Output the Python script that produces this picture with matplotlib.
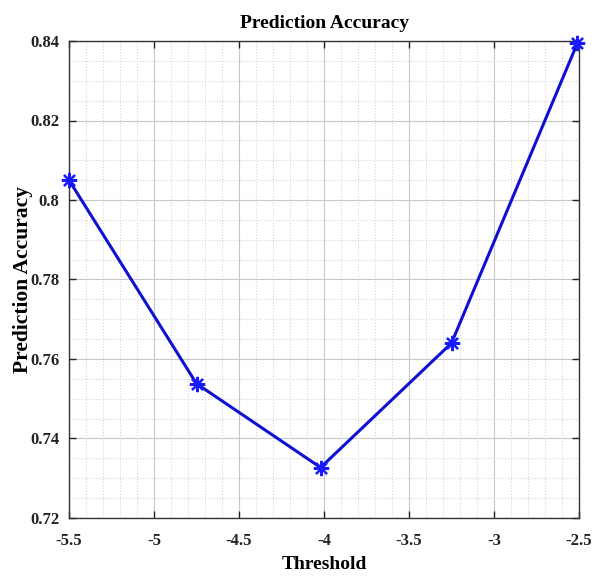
import matplotlib
matplotlib.use("Agg")
import matplotlib.pyplot as plt
from matplotlib.ticker import MultipleLocator

threshold = [-5.5, -4.75, -4.02, -3.25, -2.51]
accuracy = [0.805, 0.7538, 0.7327, 0.764, 0.8394]
xticks = [-5.5, -5, -4.5, -4, -3.5, -3, -2.5]
xticklabels = ["-5.5", "-5", "-4.5", "-4", "-3.5", "-3", "-2.5"]
yticks = [0.72, 0.74, 0.76, 0.78, 0.8, 0.82, 0.84]
yticklabels = ["0.72", "0.74", "0.76", "0.78", "0.8", "0.82", "0.84"]

plt.rcParams['font.family'] = ['Liberation Serif', 'DejaVu Serif']
plt.rcParams['font.weight'] = 'bold'

fig = plt.figure(figsize=(5.94, 5.76), dpi=100)
ax = fig.add_axes([69/594, 1-518/576, (579-69)/594, (518-41)/576])

ax.plot(threshold, accuracy, color='#1010d0', linewidth=2.2, zorder=3, clip_on=False)
ax.plot(threshold, accuracy, linestyle='none', marker=(8, 2, 0), markersize=11,
        markeredgewidth=1.6, markeredgecolor='#1a1aff', zorder=4, clip_on=False)

ax.set_xlim(-5.5, -2.5)
ax.set_ylim(0.72, 0.84)
ax.set_xticks(xticks)
ax.set_xticklabels(xticklabels)
ax.set_yticks(yticks)
ax.set_yticklabels(yticklabels)
ax.xaxis.set_minor_locator(MultipleLocator(0.1))
ax.yaxis.set_minor_locator(MultipleLocator(0.005))

ax.grid(which='major', color='#c8c8c8', linestyle='-', linewidth=0.8)
ax.grid(which='minor', color='#d4d4d4', linestyle=':', linewidth=0.8)
ax.set_axisbelow(True)

ax.tick_params(which='major', direction='in', length=5, width=1.0, top=True, right=True,
               labelsize=12, colors='#222222')
ax.tick_params(axis='x', which='major', pad=11)
ax.tick_params(axis='y', which='major', pad=7)
ax.tick_params(which='minor', length=0)
for lab in ax.get_xticklabels() + ax.get_yticklabels():
    lab.set_fontweight('bold')
for s in ax.spines.values():
    s.set_color('#333333')
    s.set_linewidth(1.0)

ax.set_title("Prediction Accuracy", fontsize=14, fontweight='bold', pad=9)
ax.set_xlabel("Threshold", fontsize=14, fontweight='bold', labelpad=5)
ax.set_ylabel("Prediction Accuracy", fontsize=15.5, fontweight='bold', labelpad=-2)

fig.savefig("out.png", dpi=100, facecolor='white')
